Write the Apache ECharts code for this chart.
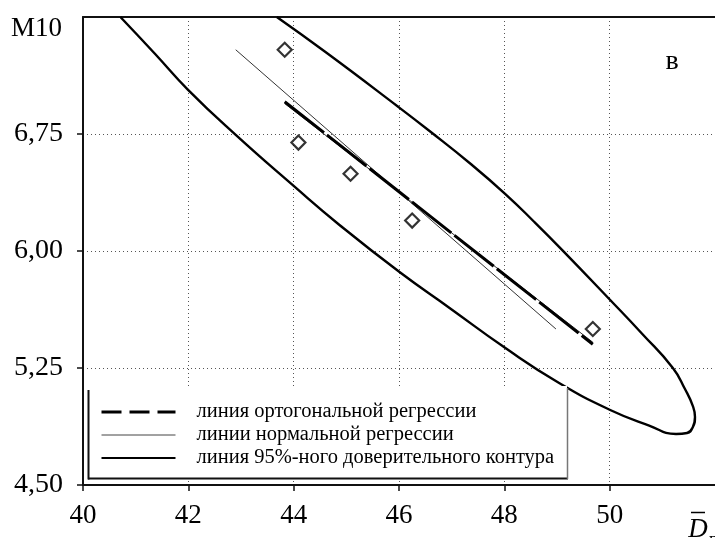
<!DOCTYPE html>
<html>
<head>
<meta charset="utf-8">
<script src="https://cdn.jsdelivr.net/npm/echarts@6/dist/echarts.min.js"></script>
<style>
  html, body { margin: 0; padding: 0; background: #fff; }
  #chart { width: 715px; height: 538px; }
</style>
</head>
<body>
<div id="chart"></div>
<script>
// Axis ticks
const xTicks = [40, 42, 44, 46, 48, 50];
const yTicks = [4.5, 5.25, 6.0, 6.75];

// Observed points
const pointsX = [43.83, 44.09, 45.08, 46.25, 49.68];
const pointsY = [7.29, 6.695, 6.495, 6.195, 5.50];

// Orthogonal regression line (end points)
const orthoX = [43.83, 49.68];
const orthoY = [6.957, 5.402];

// Normal regression lines (x on y, y on x)
const normXonYx = [42.90, 48.98];
const normXonYy = [7.29, 5.50];
const normYonXx = [43.83, 49.68];
const normYonXy = [6.945, 5.415];

// 95% confidence contour, traced from the top edge round the tip and back
const contourX = [40.71, 41.37, 41.99, 42.90, 44.00, 44.87, 46.01, 46.96, 48.02, 49.04,
                  50.01, 50.75, 51.26, 51.47, 51.58, 51.62, 51.58, 51.43, 51.20, 50.62,
                  50.01, 49.10, 48.57, 48.02, 47.34, 46.58, 45.99, 44.63, 43.68];
const contourY = [7.50, 7.263, 7.035, 6.744, 6.417, 6.167, 5.865, 5.635, 5.378, 5.154,
                  4.981, 4.881, 4.827, 4.833, 4.872, 4.936, 5.006, 5.115, 5.250, 5.468,
                  5.686, 6.006, 6.186, 6.365, 6.564, 6.769, 6.923, 7.269, 7.50];

const legendNames = [
  'линия ортогональной регрессии',
  'линии нормальной регрессии',
  'линия 95%-ного доверительного контура'
];

const zip = (xs, ys) => xs.map((x, i) => [x, ys[i]]);
const serif = 'Liberation Serif, Times New Roman, serif';

const chart = echarts.init(document.getElementById('chart'), null, { renderer: 'canvas' });

const dotted = { color: '#555', width: 1, type: [1, 3] };

chart.setOption({
  animation: false,
  backgroundColor: '#fff',
  grid: { left: 83, top: 17, width: 633, height: 468 },
  xAxis: [
    {
      type: 'value', min: 40, max: 52, interval: 2,
      axisLine: { show: true, onZero: false, lineStyle: { color: '#111', width: 2 } },
      axisTick: { show: true, inside: false, length: 6, customValues: xTicks,
                  lineStyle: { color: '#111', width: 1.5 } },
      axisLabel: { customValues: xTicks, margin: 17, color: '#000',
                   fontFamily: serif, fontSize: 27 },
      splitLine: { show: true, lineStyle: dotted }
    },
    {
      // frame line along the top of the plot
      type: 'value', position: 'top', min: 40, max: 52,
      axisLine: { show: true, onZero: false, lineStyle: { color: '#111', width: 2 } },
      axisTick: { show: false }, axisLabel: { show: false }, splitLine: { show: false }
    }
  ],
  yAxis: {
    type: 'value', min: 4.5, max: 7.5, interval: 0.75,
    axisLine: { show: true, onZero: false, lineStyle: { color: '#111', width: 2 } },
    axisTick: { show: true, inside: false, length: 6, customValues: yTicks,
                lineStyle: { color: '#111', width: 1.5 } },
    axisLabel: { customValues: yTicks, margin: 20, color: '#000',
                 fontFamily: serif, fontSize: 28,
                 formatter: v => v.toFixed(2).replace('.', ',') },
    splitLine: { show: true, lineStyle: dotted }
  },
  legend: {
    data: [
      { name: legendNames[0], lineStyle: { type: [20, 8], width: 3, color: '#000' } },
      { name: legendNames[1], lineStyle: { width: 1, color: '#444' } },
      { name: legendNames[2], lineStyle: { width: 2, color: '#000' } }
    ],
    orient: 'vertical', left: 95, top: 396,
    itemWidth: 74, itemHeight: 14, itemGap: 1,
    itemStyle: { opacity: 0 },
    selectedMode: false, z: 10,
    textStyle: { fontFamily: serif, fontSize: 20.5, lineHeight: 22, color: '#000',
                 padding: [0, 0, 0, 16] }
  },
  graphic: [
    // legend frame
    { type: 'rect', z: 5, shape: { x: 89, y: 386, width: 478, height: 92 },
      style: { fill: '#fff' } },
    { type: 'line', z: 6, shape: { x1: 88.5, y1: 390, x2: 88.5, y2: 479.5 },
      style: { stroke: '#111', lineWidth: 2 } },
    { type: 'line', z: 6, shape: { x1: 88, y1: 478.5, x2: 568, y2: 478.5 },
      style: { stroke: '#111', lineWidth: 2 } },
    { type: 'line', z: 6, shape: { x1: 567.5, y1: 388, x2: 567.5, y2: 479 },
      style: { stroke: '#777', lineWidth: 1.5 } },
    // axis names and panel letter
    { type: 'text', z: 6, x: 62, y: 29,
      style: { text: 'M10', font: '27px ' + serif, fill: '#000',
               textAlign: 'right', textVerticalAlign: 'middle' } },
    { type: 'text', z: 6, x: 672, y: 62,
      style: { text: 'в', font: '28px ' + serif, fill: '#000',
               textAlign: 'center', textVerticalAlign: 'middle' } },
    { type: 'text', z: 6, x: 698, y: 530,
      style: { text: 'D', font: 'italic 27px ' + serif, fill: '#000',
               textAlign: 'center', textVerticalAlign: 'middle' } },
    { type: 'line', z: 6, shape: { x1: 691, y1: 512.5, x2: 705, y2: 512.5 },
      style: { stroke: '#000', lineWidth: 1.5 } },
    { type: 'text', z: 6, x: 709, y: 531,
      style: { text: 'г', font: '18px ' + serif, fill: '#000',
               textAlign: 'left', textVerticalAlign: 'top' } }
  ],
  series: [
    {
      name: legendNames[2], type: 'line', data: zip(contourX, contourY),
      smooth: 0.5, symbol: 'none', clip: true,
      lineStyle: { color: '#000', width: 2.4 }, z: 2
    },
    {
      name: legendNames[1], type: 'line', data: zip(normXonYx, normXonYy),
      symbol: 'none', lineStyle: { color: '#333', width: 1 }, z: 2
    },
    {
      name: legendNames[1], type: 'line', data: zip(normYonXx, normYonXy),
      symbol: 'none', lineStyle: { color: '#333', width: 1 }, z: 2
    },
    {
      name: legendNames[0], type: 'line', data: zip(orthoX, orthoY),
      symbol: 'none', lineStyle: { color: '#000', width: 3, type: [50, 4] }, z: 3
    },
    {
      name: 'points', type: 'scatter', data: zip(pointsX, pointsY),
      symbol: 'diamond', symbolSize: 14,
      itemStyle: { color: '#fff', borderColor: '#000', borderWidth: 2.2 }, z: 4
    }
  ]
});
</script>
</body>
</html>
